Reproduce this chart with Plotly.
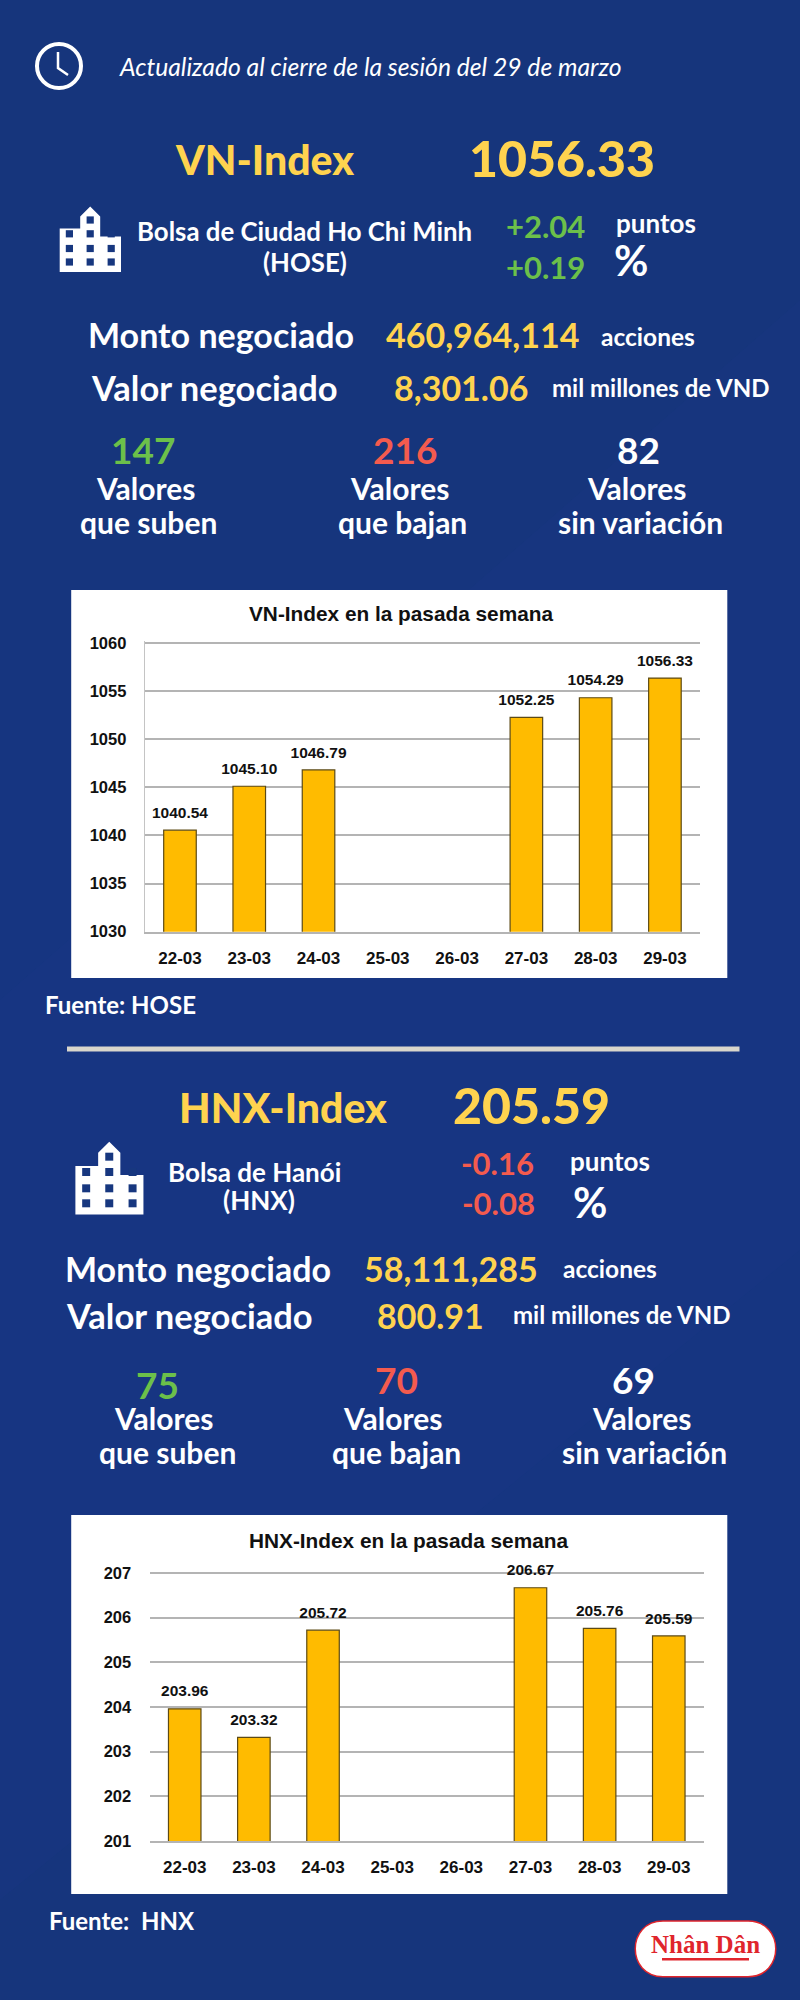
import plotly.graph_objects as go

W = 800
H = 2000

dates = ["22-03", "23-03", "24-03", "25-03", "26-03", "27-03", "28-03", "29-03"]
vn_values = [1040.54, 1045.10, 1046.79, None, None, 1052.25, 1054.29, 1056.33]
vn_ticks = [1030, 1035, 1040, 1045, 1050, 1055, 1060]
hnx_values = [203.96, 203.32, 205.72, None, None, 206.67, 205.76, 205.59]
hnx_ticks = [201, 202, 203, 204, 205, 206, 207]

YELLOW = "#FFD34F"
GREEN = "#6CC04A"
RED = "#F45B4E"
WHITE = "#FFFFFF"
BLUE = "#16357C"
TEXT_FONT = "Lato"
CHART_FONT = "Liberation Sans"


def px(x):
    return x / W


def py(y):
    return 1 - y / H


fig = go.Figure()

annotations = []
shapes = []


def label(text, x, y, size, color=WHITE, weight=700, style="normal", family=TEXT_FONT):
    annotations.append(dict(
        text=text, x=px(x), y=py(y - 1), xref="paper", yref="paper",
        xanchor="center", yanchor="middle", showarrow=False,
        font=dict(family=family, size=size, color=color, weight=weight, style=style),
    ))


def rect(x0, y0, x1, y1, color, layer="below"):
    shapes.append(dict(
        type="rect", xref="paper", yref="paper", x0=px(x0), x1=px(x1), y0=py(y0), y1=py(y1),
        fillcolor=color, line=dict(width=0), layer=layer,
    ))


def path_of(points):
    return "M " + " L ".join("{:.5f} {:.5f}".format(px(x), py(y)) for x, y in points) + " Z"


def building(x, y, s):
    outline = [(0, 22), (20.5, 22), (20.5, 10), (30.5, 0), (40.5, 10), (40.5, 30),
               (61.3, 30), (61.3, 65.5), (0, 65.5)]
    shapes.append(dict(
        type="path", xref="paper", yref="paper", layer="above",
        path=path_of([(x + a * s, y + b * s) for a, b in outline]),
        fillcolor=WHITE, line=dict(width=0),
    ))
    windows = [(30.5, 13.5)]
    for col in [9.7, 30.5, 51.5]:
        for row in [27.3, 42, 55.5]:
            windows.append((col, row))
    for a, b in windows:
        rect(x + (a - 3.6) * s, y + (b - 3.6) * s, x + (a + 3.6) * s, y + (b + 3.6) * s, "#17377F", "above")


# fondo: el azul se aclara hacia el centro de la pagina
for i in range(8):
    rect(0, 500 + i * 70, 800, 1900 - i * 70, "rgba(40,90,190,0.025)")
shapes.append(dict(
    type="path", xref="paper", yref="paper", layer="below",
    path=path_of([(800, 300), (800, 1250), (0, 1900), (0, 1000)]),
    fillcolor="rgba(40,80,170,0.04)", line=dict(width=0),
))

# reloj
shapes.append(dict(
    type="circle", xref="paper", yref="paper", x0=px(37), x1=px(81), y0=py(44), y1=py(88),
    line=dict(color=WHITE, width=4), layer="above",
))
shapes.append(dict(
    type="path", xref="paper", yref="paper", layer="above",
    path="M {:.5f} {:.5f} L {:.5f} {:.5f} L {:.5f} {:.5f}".format(px(58), py(52), px(58), py(68), px(68), py(75)),
    line=dict(color=WHITE, width=2.5),
))

label("Actualizado al cierre de la sesión del 29 de marzo", 370, 67, 24.7, weight=400, style="italic")

# HOSE
label("VN-Index", 264, 160, 41, YELLOW, 900)
label("1056.33", 562, 159, 50, YELLOW, 900)
building(59.7, 206.5, 1)
label("Bolsa de Ciudad Ho Chi Minh", 304, 232, 25.8)
label("(HOSE)", 304.5, 263, 25.8)
label("+2.04", 545, 227.5, 31, GREEN)
label("+0.19", 545, 268, 31, GREEN)
label("puntos", 656, 224, 26)
label("%", 631, 261, 42)
label("Monto negociado", 221, 335, 34)
label("460,964,114", 482, 336, 34, YELLOW)
label("acciones", 648, 337, 24.5)
label("Valor negociado", 214, 388, 34.5)
label("8,301.06", 461, 388.5, 34, YELLOW)
label("mil millones de VND", 660, 388.5, 24)
label("147", 143, 450.6, 37, GREEN)
label("216", 404.6, 450.6, 37, RED)
label("82", 638, 450.6, 37)
label("Valores", 145, 489.5, 30)
label("que suben", 148.5, 522.8, 30)
label("Valores", 399.5, 489.5, 30)
label("que bajan", 402.5, 522.8, 30)
label("Valores", 636.7, 489.5, 30)
label("sin variación", 640, 522.8, 30)
label("Fuente: HOSE", 120, 1005, 24)

rect(67, 1046.5, 739.5, 1051.5, "#D9D6CC")

# HNX
label("HNX-Index", 283, 1108, 41, YELLOW, 900)
label("205.59", 531, 1106, 50, YELLOW, 900)
building(75.4, 1141.7, 1.11)
label("Bolsa de Hanói", 255, 1172.7, 26)
label("(HNX)", 258.6, 1200.7, 26)
label("-0.16", 497, 1164, 31, RED)
label("-0.08", 498, 1204, 31, RED)
label("puntos", 610, 1162, 26)
label("%", 589.6, 1202.7, 42)
label("Monto negociado", 198, 1269, 34)
label("58,111,285", 451, 1269, 34, YELLOW)
label("acciones", 610, 1269, 24.5)
label("Valor negociado", 189, 1316, 34.5)
label("800.91", 430, 1316, 34, YELLOW)
label("mil millones de VND", 621.5, 1315, 24)
label("75", 157, 1385.7, 37, GREEN)
label("70", 396, 1380, 37, RED)
label("69", 633, 1380, 37)
label("Valores", 163, 1419, 30)
label("que suben", 167, 1452.7, 30)
label("Valores", 392.4, 1419, 30)
label("que bajan", 396, 1452.7, 30)
label("Valores", 641, 1419, 30)
label("sin variación", 644.5, 1452.7, 30)
label("Fuente:  HNX", 122, 1921.7, 24)

# tarjetas de los graficos
rect(71.2, 590, 727.3, 978, WHITE)
rect(71.2, 1515, 727.3, 1894, WHITE)
label("VN-Index en la pasada semana", 401, 615, 20.8, "#111111", family=CHART_FONT)
label("HNX-Index en la pasada semana", 408, 1541, 20.8, "#111111", family=CHART_FONT)

# logo
shapes.append(dict(
    type="path", xref="paper", yref="paper", layer="above",
    path=("M {a} {t} L {b} {t} C {c} {t} {c} {u} {b} {u} L {a} {u} C {d} {u} {d} {t} {a} {t} Z").format(
        a=px(663), b=px(748), c=px(785), d=px(626), t=py(1921), u=py(1976.7)),
    fillcolor=WHITE, line=dict(color="#E0252C", width=1.5),
))
label("Nhân Dân", 705.5, 1945, 25, "#E0252C", family="Liberation Serif")
rect(662, 1958, 749, 1960.5, "#E0252C", "above")


def add_chart(values, xaxis, yaxis):
    fig.add_trace(go.Bar(
        x=dates, y=values, xaxis=xaxis, yaxis=yaxis, width=0.47,
        marker=dict(color="#FFBB00", line=dict(color="#5C4A14", width=1.2)),
        hoverinfo="skip", showlegend=False,
    ))
    shown = [(d, v) for d, v in zip(dates, values) if v is not None]
    fig.add_trace(go.Scatter(
        x=[d for d, v in shown], y=[v for d, v in shown], xaxis=xaxis, yaxis=yaxis, mode="markers+text",
        text=["{:.2f}".format(v) for d, v in shown],
        textposition="top center", cliponaxis=False,
        marker=dict(size=12, opacity=0),
        textfont=dict(family=CHART_FONT, size=15.5, color="#111111", weight=700),
        hoverinfo="skip", showlegend=False,
    ))


add_chart(vn_values, "x", "y")
add_chart(hnx_values, "x2", "y2")

x_font = dict(family=CHART_FONT, size=17, color="#111111", weight=700)
y_font = dict(family=CHART_FONT, size=16.5, color="#111111", weight=700)
x_common = dict(
    type="category", categoryorder="array", categoryarray=dates,
    showgrid=False, ticks="outside", ticklen=10, tickcolor="rgba(0,0,0,0)", tickfont=x_font,
    showline=True, linecolor="#B4B4B4", linewidth=2,
)
y_common = dict(
    showgrid=True, gridcolor="#B4B4B4", gridwidth=1.5, zeroline=False,
    ticks="outside", ticklen=14, tickcolor="rgba(0,0,0,0)", tickfont=y_font,
)

fig.update_layout(
    width=W, height=H,
    margin=dict(l=0, r=0, t=0, b=0, autoexpand=False),
    paper_bgcolor=BLUE, plot_bgcolor="rgba(0,0,0,0)",
    showlegend=False, bargap=0.53,
    xaxis={**x_common, "anchor": "y", "domain": [px(144.7), px(700.2)]},
    # el limite superior va ~2px por encima: plotly no dibuja rejilla pegada al borde
    yaxis={**y_common, "anchor": "x", "domain": [py(931.7), py(640.8)], "range": [1030, 1060.2],
           "tickvals": vn_ticks, "showline": True, "linecolor": "#C4C4C4", "linewidth": 1},
    xaxis2={**x_common, "anchor": "y2", "domain": [px(149.5), px(704)]},
    yaxis2={**y_common, "anchor": "x2", "domain": [py(1841), py(1571.2)], "range": [201, 207.04],
            "tickvals": hnx_ticks},
    annotations=annotations,
    shapes=shapes,
)

fig.write_html("out.html", config={"displayModeBar": False}, post_script="document.body.style.margin='0';")
